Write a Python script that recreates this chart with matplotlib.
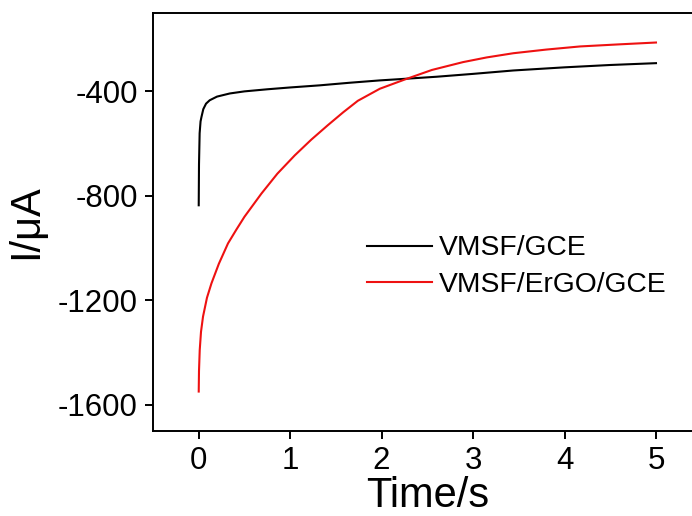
import matplotlib
matplotlib.use("Agg")
import matplotlib.pyplot as plt

plt.rcParams["font.family"] = ["Liberation Sans", "DejaVu Sans"]
plt.rcParams["axes.unicode_minus"] = False

# chronoamperometry traces
t_gce = [0, 0.003, 0.01, 0.02, 0.03, 0.05, 0.08, 0.12, 0.2, 0.34, 0.5, 0.75,
         1.0, 1.32, 1.65, 1.98, 2.25, 2.6, 3.0, 3.44, 4.0, 4.5, 5.0]
i_gce = [-836, -680, -560, -515, -498, -468, -447, -434, -420, -408, -400, -392,
         -385, -377, -367, -358, -352, -344, -333, -320, -308, -299, -292]

t_ergo = [0, 0.003, 0.011, 0.025, 0.047, 0.09, 0.139, 0.22, 0.32, 0.41, 0.5,
          0.686, 0.86, 1.05, 1.23, 1.41, 1.58, 1.74, 1.98, 2.25, 2.55, 2.89,
          3.15, 3.44, 3.8, 4.17, 4.6, 5.0]
i_ergo = [-1549, -1470, -1390, -1320, -1262, -1190, -1135, -1060, -982, -930,
          -880, -791, -715, -645, -585, -530, -480, -436, -390, -355, -318,
          -288, -270, -254, -240, -228, -220, -213]

labels = ["VMSF/GCE", "VMSF/ErGO/GCE"]
x_ticks = [0, 1, 2, 3, 4, 5]
y_ticks = [-1600, -1200, -800, -400]

fig = plt.figure(figsize=(6.92, 5.16), dpi=100, facecolor="white")
# the original is cropped on the right, so the axes run past the edge
ax = fig.add_axes([153 / 692, 85 / 516, (701.7 - 153) / 692, 418 / 516])

ax.plot(t_gce, i_gce, color="black", lw=1.5, label=labels[0])
ax.plot(t_ergo, i_ergo, color="#ee1111", lw=1.5, label=labels[1])

ax.set_xlim(-0.5, 5.5)
ax.set_ylim(-1700, -100)
ax.set_xticks(x_ticks)
ax.set_yticks(y_ticks)

ax.spines["right"].set_visible(False)
for sp in ax.spines.values():
    sp.set_linewidth(1.4)
ax.tick_params(direction="out", length=6, width=1.4, labelsize=22.5, pad=5)

ax.set_xlabel("Time/s", fontsize=30, labelpad=0)
ax.set_ylabel("I/\u03bcA", fontsize=30, labelpad=8)

ax.legend(loc="upper left", bbox_to_anchor=(0.39, 0.468), frameon=False,
          fontsize=20.3, handlelength=2.3, handletextpad=0.25,
          labelspacing=0.38, borderpad=0, borderaxespad=0)

fig.savefig("out.png", dpi=100, facecolor="white")
